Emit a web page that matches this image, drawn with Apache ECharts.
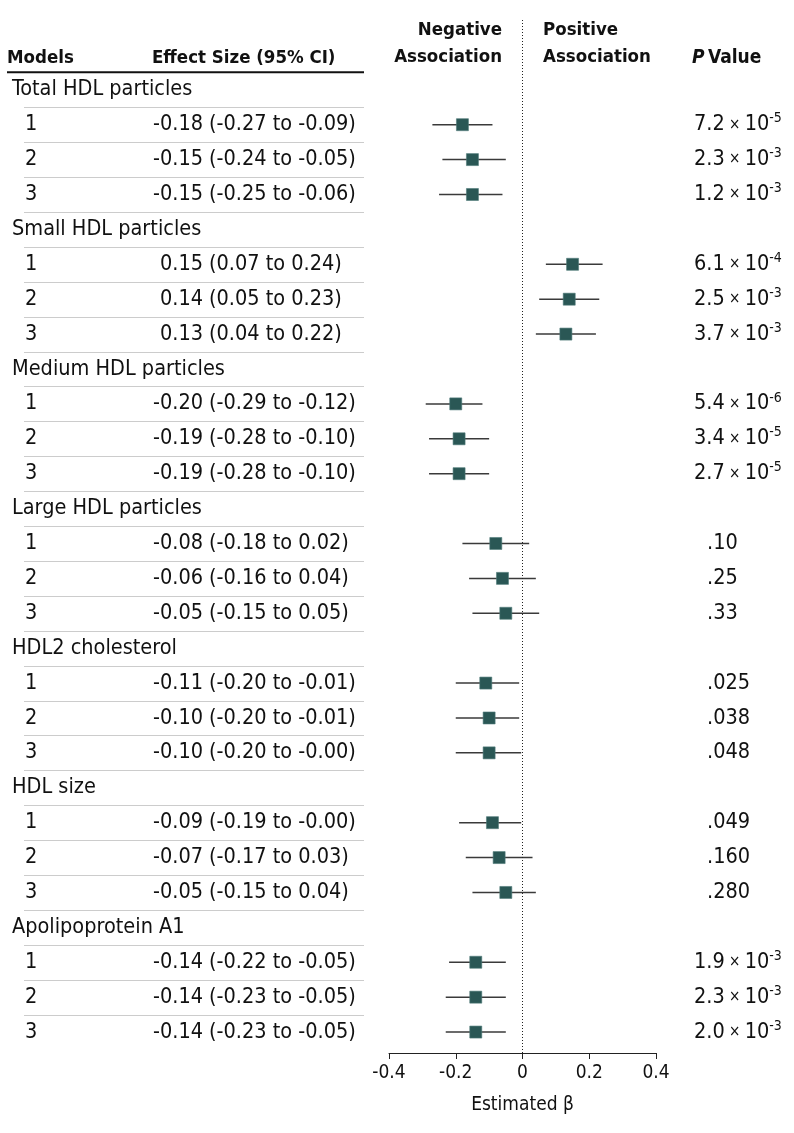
<!DOCTYPE html>
<html>
<head>
<meta charset="utf-8">
<script src="https://cdn.jsdelivr.net/npm/echarts@6/dist/echarts.min.js"></script>
<style>
html,body{margin:0;padding:0;background:#fff;}
#chart{width:794px;height:1133px;}
</style>
</head>
<body>
<div id="chart"></div>
<script>
// ---------- data ----------
const groups = ['Total HDL particles', 'Small HDL particles', 'Medium HDL particles',
  'Large HDL particles', 'HDL2 cholesterol', 'HDL size', 'Apolipoprotein A1'];
const models = ['1', '2', '3'];
const estimates = [
  [-0.18, -0.15, -0.15],
  [0.15, 0.14, 0.13],
  [-0.20, -0.19, -0.19],
  [-0.08, -0.06, -0.05],
  [-0.11, -0.10, -0.10],
  [-0.09, -0.07, -0.05],
  [-0.14, -0.14, -0.14]
];
const lowerCI = [
  [-0.27, -0.24, -0.25],
  [0.07, 0.05, 0.04],
  [-0.29, -0.28, -0.28],
  [-0.18, -0.16, -0.15],
  [-0.20, -0.20, -0.20],
  [-0.19, -0.17, -0.15],
  [-0.22, -0.23, -0.23]
];
const upperCI = [
  [-0.09, -0.05, -0.06],
  [0.24, 0.23, 0.22],
  [-0.12, -0.10, -0.10],
  [0.02, 0.04, 0.05],
  [-0.01, -0.01, -0.004],
  [-0.004, 0.03, 0.04],
  [-0.05, -0.05, -0.05]
];
const pValues = [
  ['7.2e-5', '2.3e-3', '1.2e-3'],
  ['6.1e-4', '2.5e-3', '3.7e-3'],
  ['5.4e-6', '3.4e-5', '2.7e-5'],
  ['.10', '.25', '.33'],
  ['.025', '.038', '.048'],
  ['.049', '.160', '.280'],
  ['1.9e-3', '2.3e-3', '2.0e-3']
];
const xTicks = [-0.4, -0.2, 0, 0.2, 0.4];

// ---------- layout ----------
const FONT = "'DejaVu Sans Condensed', 'Liberation Sans', sans-serif";
const TXT = '#111';
const FS = 21.5;
const HFS = 18.5;
const Y_MIN = -2, Y_MAX = 27.6;
const GRID_TOP = 20, GRID_H = 1033;
const nRows = groups.length * 4;

function fmt(v) {
  return (v < 0 ? '-' : '') + Math.abs(v).toFixed(2);
}

const groupItems = [], modelItems = [], estItems = [], ciTextItems = [], pItems = [];
const pointData = [], ciData = [], sepData = [];
groups.forEach((g, gi) => {
  const hr = gi * 4;
  groupItems.push({ value: [12, hr], name: g });
  models.forEach((m, mi) => {
    const r = hr + 1 + mi;
    const e = estimates[gi][mi], lo = lowerCI[gi][mi], hi = upperCI[gi][mi];
    modelItems.push({ value: [25, r], name: m });
    estItems.push({ value: [203, r], name: fmt(e) });
    ciTextItems.push({ value: [209, r], name: '(' + fmt(lo) + ' to ' + fmt(hi) + ')' });
    const p = pValues[gi][mi];
    if (p.indexOf('e') >= 0) {
      const [mant, ex] = p.split('e');
      pItems.push({ value: [694, r], name: '{m|' + mant + '}{x| × }{m|10}{s|' + ex + '}' });
    } else {
      pItems.push({ value: [707, r], name: '{m|' + p + '}' });
    }
    pointData.push([e, r]);
    ciData.push([lo, hi, r]);
  });
});
for (let r = 0; r < nRows - 1; r++) sepData.push([24, 364, r + 0.5]);

function textSeries(data, align) {
  return {
    type: 'scatter', xAxisIndex: 1, yAxisIndex: 1, data: data,
    symbolSize: 0, silent: true, z: 5,
    itemStyle: { opacity: 1 },
    label: {
      show: true, position: [0, 0], align: align, verticalAlign: 'middle',
      formatter: '{b}', color: TXT, fontSize: FS, fontFamily: FONT,
      textBorderWidth: 0, opacity: 1
    }
  };
}

const chart = echarts.init(document.getElementById('chart'), null, { renderer: 'canvas' });
chart.setOption({
  backgroundColor: '#fff',
  animation: false,
  grid: [
    { left: 389, width: 267, top: GRID_TOP, height: GRID_H },
    { left: 0, width: 794, top: GRID_TOP, height: GRID_H }
  ],
  xAxis: [
    {
      gridIndex: 0, type: 'value', min: -0.4, max: 0.4, interval: 0.2,
      axisLine: { show: true, onZero: false, lineStyle: { color: '#222', width: 1 } },
      axisTick: { show: true, length: 6, lineStyle: { color: '#222' } },
      splitLine: { show: false },
      axisLabel: {
        margin: 11, color: TXT, fontSize: 19, fontFamily: FONT,
        formatter: v => {
          const t = xTicks.find(x => Math.abs(x - v) < 1e-9);
          if (t === undefined) return '';
          return t === 0 ? '0' : t.toFixed(1);
        }
      },
      name: 'Estimated β', nameLocation: 'middle', nameGap: 43,
      nameTextStyle: { color: TXT, fontSize: 19, fontFamily: FONT }
    },
    { gridIndex: 1, type: 'value', min: 0, max: 794, show: false }
  ],
  yAxis: [
    { gridIndex: 0, type: 'value', inverse: true, min: Y_MIN, max: Y_MAX, show: false },
    { gridIndex: 1, type: 'value', inverse: true, min: Y_MIN, max: Y_MAX, show: false }
  ],
  graphic: [
    { type: 'text', x: 7, y: 58, style: { text: 'Models', fontSize: HFS, fontWeight: 'bold', fontFamily: FONT, fill: TXT, align: 'left', verticalAlign: 'middle' } },
    { type: 'text', x: 152, y: 58, style: { text: 'Effect Size (95% CI)', fontSize: HFS, fontWeight: 'bold', fontFamily: FONT, fill: TXT, align: 'left', verticalAlign: 'middle' } },
    { type: 'text', x: 502, y: 44, style: { text: 'Negative\nAssociation', lineHeight: 27, fontSize: HFS, fontWeight: 'bold', fontFamily: FONT, fill: TXT, align: 'right', verticalAlign: 'middle' } },
    { type: 'text', x: 543, y: 44, style: { text: 'Positive\nAssociation', lineHeight: 27, fontSize: HFS, fontWeight: 'bold', fontFamily: FONT, fill: TXT, align: 'left', verticalAlign: 'middle' } },
    { type: 'text', x: 692, y: 58, style: {
        text: '{i|P} {n|Value}', align: 'left', verticalAlign: 'middle', fontFamily: FONT,
        rich: {
          i: { fontSize: HFS + 0.5, fontWeight: 'bold', fontStyle: 'italic', fontFamily: FONT, fill: TXT },
          n: { fontSize: HFS + 0.5, fontWeight: 'bold', fontFamily: FONT, fill: TXT }
        } } }
  ],
  series: [
    // header underline
    {
      type: 'custom', xAxisIndex: 1, yAxisIndex: 1, silent: true,
      data: [[7, 364, -0.5]],
      renderItem: (params, api) => {
        const a = api.coord([api.value(0), api.value(2)]);
        const b = api.coord([api.value(1), api.value(2)]);
        return { type: 'line', shape: { x1: a[0], y1: a[1], x2: b[0], y2: b[1] }, style: { stroke: '#111', lineWidth: 2 } };
      }
    },
    // row separators
    {
      type: 'custom', xAxisIndex: 1, yAxisIndex: 1, silent: true,
      data: sepData,
      renderItem: (params, api) => {
        const a = api.coord([api.value(0), api.value(2)]);
        const b = api.coord([api.value(1), api.value(2)]);
        const y = Math.round(a[1]) + 0.5;
        return { type: 'line', shape: { x1: a[0], y1: y, x2: b[0], y2: y }, style: { stroke: '#cccccc', lineWidth: 1 } };
      }
    },
    textSeries(groupItems, 'left'),
    textSeries(modelItems, 'left'),
    textSeries(estItems, 'right'),
    textSeries(ciTextItems, 'left'),
    {
      type: 'scatter', xAxisIndex: 1, yAxisIndex: 1, data: pItems,
      symbolSize: 0, silent: true, z: 5,
      itemStyle: { opacity: 1 },
      label: {
        show: true, position: [0, 0], align: 'left', verticalAlign: 'middle',
        formatter: '{b}', fontFamily: FONT, textBorderWidth: 0, opacity: 1,
        rich: {
          m: { fontSize: FS, color: TXT, fontFamily: FONT, lineHeight: 26 },
          x: { fontSize: 15, color: TXT, fontFamily: FONT, lineHeight: 26 },
          s: { fontSize: 14, color: TXT, fontFamily: FONT, verticalAlign: 'top', lineHeight: 14 }
        }
      }
    },
    // CI whiskers
    {
      type: 'custom', xAxisIndex: 0, yAxisIndex: 0, silent: true, z: 3,
      data: ciData,
      renderItem: (params, api) => {
        const a = api.coord([api.value(0), api.value(2)]);
        const b = api.coord([api.value(1), api.value(2)]);
        return { type: 'line', shape: { x1: a[0], y1: a[1], x2: b[0], y2: b[1] }, style: { stroke: '#3a3a3a', lineWidth: 1.5 } };
      }
    },
    // point estimates
    {
      type: 'scatter', xAxisIndex: 0, yAxisIndex: 0, silent: true, z: 4,
      data: pointData, symbol: 'rect', symbolSize: 12,
      itemStyle: { color: '#2a5755', opacity: 1, borderColor: '#4f7b78', borderWidth: 0.6 },
      markLine: {
        silent: true, symbol: 'none', label: { show: false },
        lineStyle: { color: '#222', type: [1, 2], width: 1, opacity: 1 },
        data: [{ xAxis: 0 }]
      }
    }
  ]
});
</script>
</body>
</html>
